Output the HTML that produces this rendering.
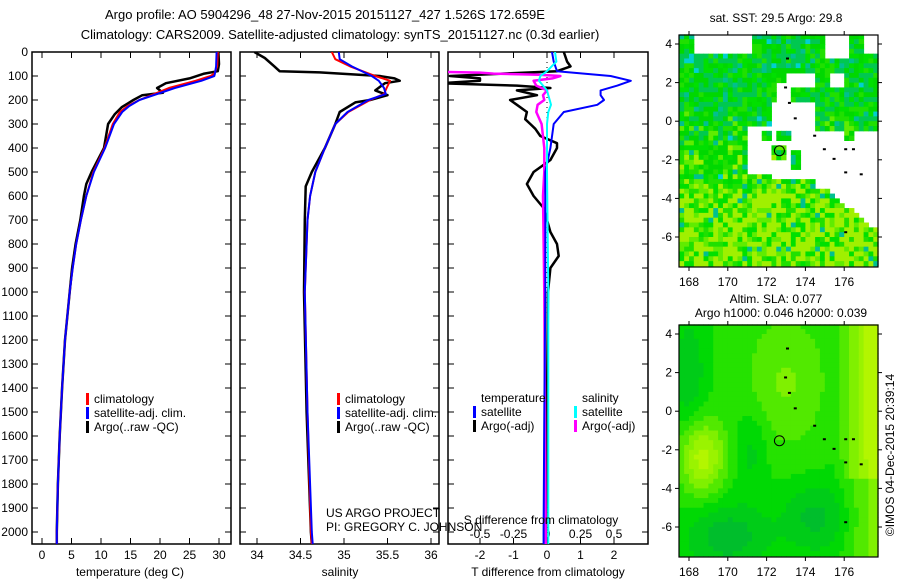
<!DOCTYPE html>
<html><head><meta charset="utf-8"><style>
body{margin:0;background:#fff}
svg{display:block;font-family:"Liberation Sans",sans-serif}
text{font-size:12px;fill:#000}
</style></head><body>
<svg id="s" width="900" height="580" viewBox="0 0 900 580">
<defs>
<clipPath id="c1"><rect x="32" y="52" width="199" height="492"/></clipPath>
<clipPath id="c2"><rect x="240" y="52" width="199" height="492"/></clipPath>
<clipPath id="c3"><rect x="448" y="52" width="200" height="492"/></clipPath>
</defs>
<text x="325" y="19" text-anchor="middle" style="font-size:13px">Argo profile: AO 5904296_48 27-Nov-2015 20151127_427 1.526S 172.659E</text>
<text x="340" y="39" text-anchor="middle" style="font-size:13px">Climatology: CARS2009. Satellite-adjusted climatology: synTS_20151127.nc (0.3d earlier)</text>
<g id="g"></g>
</svg>
<script>
// ---------- data ----------
const tDepth=[0,60,90,100,120,150,175,200,225,250,300,400,500,600,700,800,900,1000,1200,1400,1600,1800,2000,2050];
const tClim=[29.8,29.7,29.2,28.6,26,21.5,19,16.5,14.5,13.2,12,10.6,8.7,7.5,6.6,5.8,5.2,4.7,3.9,3.4,3.0,2.7,2.5,2.5];
const tSat=[29.6,29.5,29.3,29.2,27,22.5,19.5,16.5,14.8,13.6,12.2,10.7,8.8,7.5,6.6,5.8,5.2,4.7,3.9,3.4,3.0,2.7,2.5,2.5];
const argoDepth=[0,50,80,90,110,130,150,170,180,200,230,260,300,400,500,550,600,700,800,900,1000,1200,1400,1600,1800,2000,2050];
const tArgo=[29.9,30,29.8,27.5,25,21,19.5,20.5,17,15.5,13.5,12.3,11.2,10.5,8.4,7.5,7.1,6.5,5.7,5.1,4.7,3.9,3.4,3.0,2.7,2.5,2.5];
const sDepth=[0,30,60,100,120,150,175,200,250,300,400,500,600,700,1000,1500,2000,2050];
const sClim=[34.86,34.9,35.07,35.36,35.53,35.49,35.46,35.3,35.05,34.9,34.78,34.67,34.61,34.58,34.55,34.58,34.62,34.63];
const sSat=[34.94,34.95,35.09,35.32,35.4,35.46,35.48,35.28,35.04,34.9,34.78,34.67,34.61,34.58,34.55,34.58,34.63,34.64];
const sArgoDepth=[0,25,60,80,85,100,110,120,130,160,180,200,210,250,300,400,500,560,700,1000,1500,2000,2050];
const sArgo=[33.97,34.09,34.2,34.26,34.72,35.41,35.58,35.64,35.47,35.36,35.5,35.3,35.13,34.95,34.9,34.78,34.63,34.56,34.55,34.54,34.57,34.62,34.63];
const dDepth=[0,40,80,100,120,140,160,180,200,220,250,300,400,500,1000,1500,2000,2050];
const dTSat=[0.15,0.2,0.3,1.9,2.5,2.1,1.6,1.6,1.7,1.5,0.5,0.2,0.1,-0.05,-0.05,-0.08,-0.1,-0.1];
const dSSat=[0.06,0.07,0,-0.05,-0.06,-0.03,0,0.01,0.02,0.03,0.01,0,0,0,0.01,0.01,0.01,0.01];
const daDepth=[0,40,60,80,90,100,110,120,130,140,150,160,180,200,220,250,280,300,320,350,380,400,450,500,550,600,650,700,750,800,850,900,1000,1500,2000,2050];
const dTArgo=[0.5,0.6,0.7,0.3,-1.3,-2.9,-2,-2,-3.2,-0.9,0.1,-0.9,-0.3,-1.1,-0.9,-0.6,-0.65,-0.5,-0.35,-0.2,0.3,0.3,0.1,-0.4,-0.6,-0.4,-0.1,0,0.1,0.3,0.35,0.1,0.03,0,-0.03,-0.03];
const dsDepth=[83,86,90,95,100,110,120,140,160,180,200,220,250,300,400,500,600,1000,2000,2050];
const dSArgo=[-0.8,-0.5,-0.4,-0.06,0.1,0.04,-0.1,-0.08,0,-0.03,-0.02,-0.07,-0.08,-0.04,-0.02,-0.02,-0.03,-0.02,-0.01,-0.01];
const depthTicks=[0,100,200,300,400,500,600,700,800,900,1000,1100,1200,1300,1400,1500,1600,1700,1800,1900,2000];
const tTicks=[0,5,10,15,20,25,30];
const sTicks=[34,34.5,35,35.5,36];
const dTTicks=[-2,-1,0,1,2];
const dSTicks=[-0.5,-0.25,0,0.25,0.5];
const lonTicks=[168,170,172,174,176];
const latTicks=[4,2,0,-2,-4,-6];

// ---------- axes ----------
const yD=d=>52+d*0.24;
const xT=t=>42+t*5.9;
const xS=s=>257+(s-34)*87;
const xdT=t=>547+t*33.5;
const xdS=s=>547+s*134;
const xLon=l=>689+(l-168)*19.4;
const yLat1=l=>44+(4-l)*19.3;
const yLat2=l=>334+(4-l)*19.3;

const NS='http://www.w3.org/2000/svg';
const G=document.getElementById('g');
function mk(tag,at,parent){const e=document.createElementNS(NS,tag);for(const k in at)e.setAttribute(k,at[k]);(parent||G).appendChild(e);return e;}
function txt(x,y,s,anchor,extra){const e=mk('text',Object.assign({x:x,y:y,'text-anchor':anchor||'start'},extra||{}));e.textContent=s;return e;}

function panel(x0,x1,name){
  const r=mk('rect',{x:x0,y:52,width:x1-x0,height:492,fill:'none',stroke:'#000','stroke-width':1.5});
  
  
  depthTicks.forEach(d=>{mk('line',{x1:x0,x2:x0+6,y1:yD(d),y2:yD(d),stroke:'#000'});mk('line',{x1:x1-6,x2:x1,y1:yD(d),y2:yD(d),stroke:'#000'});});
}
function line(vals,depths,fx,color,w,clip,name){
  const p=vals.map((v,i)=>fx(v).toFixed(1)+','+yD(depths[i]).toFixed(1)).join(' ');
  const e=mk('polyline',{points:p,fill:'none',stroke:color,'stroke-width':w,'clip-path':'url(#'+clip+')','stroke-linejoin':'round'});
  
  
}
function legend(x,y,color,label,name){
  mk('rect',{x:x,y:y-10,width:3,height:12,fill:color});
  const t=txt(x+8,y,label);
  
  
}

depthTicks.forEach(d=>{const t=txt(28,yD(d)+4,String(d),'end');});

// panel 1 temperature
panel(32,231,'temperature-panel');
tTicks.forEach(t=>{mk('line',{x1:xT(t),x2:xT(t),y1:544,y2:538,stroke:'#000'});mk('line',{x1:xT(t),x2:xT(t),y1:52,y2:58,stroke:'#000'});const e=txt(xT(t),559,String(t),'middle');});
line(tArgo,argoDepth,xT,'#000',2.5,'c1','temp-argo-line');
line(tClim,tDepth,xT,'#f00',2,'c1','temp-clim-line');
line(tSat,tDepth,xT,'#00f',2,'c1','temp-sat-line');
legend(86,403,'#f00','climatology','legend-climatology');
legend(86,417,'#00f','satellite-adj. clim.','legend-satellite');
legend(86,431,'#000','Argo(..raw -QC)','legend-argo');
let e=txt(130,576,'temperature (deg C)','middle');

// panel 2 salinity
panel(240,439,'salinity-panel');
sTicks.forEach(s=>{mk('line',{x1:xS(s),x2:xS(s),y1:544,y2:538,stroke:'#000'});mk('line',{x1:xS(s),x2:xS(s),y1:52,y2:58,stroke:'#000'});const t=txt(xS(s),559,String(s),'middle');});
line(sArgo,sArgoDepth,xS,'#000',2.5,'c2','sal-argo-line');
line(sClim,sDepth,xS,'#f00',2,'c2','sal-clim-line');
line(sSat,sDepth,xS,'#00f',2,'c2','sal-sat-line');
legend(337,403,'#f00','climatology','legend-climatology-2');
legend(337,417,'#00f','satellite-adj. clim.','legend-satellite-2');
legend(337,431,'#000','Argo(..raw -QC)','legend-argo-2');
e=txt(340,576,'salinity','middle');
e=txt(326,517,'US ARGO PROJECT');
e=txt(326,531,'PI: GREGORY C. JOHNSON');

// panel 3 differences
panel(448,648,'difference-panel');
dTTicks.forEach(t=>{mk('line',{x1:xdT(t),x2:xdT(t),y1:544,y2:538,stroke:'#000'});mk('line',{x1:xdT(t),x2:xdT(t),y1:52,y2:58,stroke:'#000'});const q=txt(xdT(t),559,String(t),'middle');});
dSTicks.forEach(s=>{const q=txt(xdS(s),538,String(s),'middle');});
mk('line',{x1:xdT(0),x2:xdT(0),y1:52,y2:544,stroke:'#000','stroke-dasharray':'1,4'});
line(dTArgo,daDepth,xdT,'#000',2.5,'c3','tdiff-argo-line');
line(dSArgo,dsDepth,xdS,'#f0f',2.5,'c3','sdiff-argo-line');
line(dTSat,dDepth,xdT,'#00f',2,'c3','tdiff-sat-line');
line(dSSat,dDepth,xdS,'#0ff',2,'c3','sdiff-sat-line');
e=txt(481,402,'temperature');
e=txt(582,402,'salinity');
legend(473,416,'#00f','satellite','legend-tdiff-satellite');
legend(473,430,'#000','Argo(-adj)','legend-tdiff-argo');
legend(574,416,'#0ff','satellite','legend-sdiff-satellite');
legend(574,430,'#f0f','Argo(-adj)','legend-sdiff-argo');
e=txt(541,524,'S difference from climatology','middle');
e=txt(548,576,'T difference from climatology','middle');

// ---------- maps ----------
function hash(i,j){let h=(i*374761393+j*668265263)|0;h=(h^(h>>>13))*1274126177|0;return ((h^(h>>>16))>>>0)/4294967296;}
const whiteRects=[[171.0,172.3,-2.7,-0.3],[172.3,174.5,-2.9,1.0],[174.5,177.8,-3.5,-0.6],[172.5,173.3,1.0,2.6],[173.3,174.6,1.8,2.4],
  [175.1,176.3,3.3,4.5],[177.1,177.8,3.6,4.5],[168.3,171.2,3.6,4.5],[175.3,176.1,1.8,2.6]];
const greenPatches=[[172.2,173.0,-2.0,-1.2],[173.2,173.8,-2.6,-1.6],[171.8,172.3,-1.0,-0.6],[172.6,173.2,-1.0,-0.5],[175.9,176.4,-1.1,-0.6],[172.5,173.0,2.0,2.6]];
function inR(lon,lat,r){return lon>=r[0]&&lon<r[1]&&lat>=r[2]&&lat<r[3];}
function isWhite(lon,lat){
  if(greenPatches.some(r=>inR(lon,lat,r)))return false;
  if(whiteRects.some(r=>inR(lon,lat,r)))return true;
  if(lon>=175&&lat<-3.5&&lat>-3.5-(lon-175)*0.8)return true;
  return false;
}
const sstPal=['#00c850','#00d800','#20e000','#00e000','#60ec00','#a0f000','#00c090','#00d0d0'];
const cell=0.25;
const mapG1=mk('g',{});
const mapG2=mk('g',{});
const lonMin=167.5,lonMax=177.75,latMin=-7.5,latMax=4.5;
for(let i=0;lonMin+i*cell<lonMax;i++){
  for(let j=0;latMax-j*cell>latMin;j++){
    const lon=lonMin+i*cell+cell/2, lat=latMax-j*cell-cell/2;
    const x=xLon(lonMin+i*cell), w=cell*19.4+0.5;
    if(!isWhite(lon,lat)){
      const r=hash(i,j); let k;
      const south=Math.max(0,Math.min(1,(0.5-lat)/5));
      if(r<0.05)k=6; else if(r<0.07&&lat>-3)k=7; else {const v=r*0.8+south*0.5; k=v<0.3?0:v<0.5?1:v<0.65?2:v<0.8?3:v<0.95?4:5;}
      mk('rect',{x:x,y:yLat1(lat+cell/2),width:w,height:cell*19.3+0.5,fill:sstPal[k]},mapG1);
    }
    const g=(a,b,sx,sy)=>Math.exp(-((lon-a)**2/(2*sx*sx)+(lat-b)**2/(2*sy*sy)));
    let v=0.45+0.55*g(168.7,-2.4,0.8,1.3)+0.6*Math.max(0,Math.min(1,(lon-175.5)/2))*(lat>-3.5?1:0.5)+0.25*g(173,1.5,1.5,2.5)-0.35*g(170,-6.5,1.5,1.2)-0.3*g(174.5,-5.5,1.2,1.3)-0.25*g(168,2,0.6,2)-0.2*g(171.2,-2,0.6,1.5);
    v=Math.round(v*8)/8;
    const c0=[0,176,64],c1=[0,220,0],c2=[128,240,0],c3=[200,248,0];
    let col; const lerp=(a,b,t)=>a.map((q,n)=>Math.round(q+(b[n]-q)*t));
    if(v<0.4)col=lerp(c0,c1,Math.max(0,v/0.4)); else if(v<0.75)col=lerp(c1,c2,(v-0.4)/0.35); else col=lerp(c2,c3,Math.min(1,(v-0.75)/0.35));
    mk('rect',{x:x,y:yLat2(lat+cell/2),width:w,height:cell*19.3+0.5,fill:'rgb('+col+')'},mapG2);
  }
}
function mapFrame(yf,top,name){
  const f=mk('rect',{x:679,y:top,width:199,height:232,fill:'none',stroke:'#000','stroke-width':1.2});
  
  lonTicks.forEach(l=>{mk('line',{x1:xLon(l),x2:xLon(l),y1:top,y2:top-4,stroke:'#000'});mk('line',{x1:xLon(l),x2:xLon(l),y1:top+232,y2:top+236,stroke:'#000'});const t=txt(xLon(l),top+251,String(l),'middle');});
  latTicks.forEach(l=>{mk('line',{x1:679,x2:675,y1:yf(l),y2:yf(l),stroke:'#000'});mk('line',{x1:878,x2:882,y1:yf(l),y2:yf(l),stroke:'#000'});const t=txt(672,yf(l)+4,String(l),'end');});
  const c=mk('circle',{cx:xLon(172.66),cy:yf(-1.53),r:5,fill:'none',stroke:'#000','stroke-width':1});
  
  const isl=[[173,3.3],[172.9,1.8],[173.1,1.0],[173.4,0.2],[174.4,-0.7],[174.9,-1.4],[176,-1.4],[176.4,-1.4],[175.4,-1.9],[176,-2.6],[176.8,-2.7],[176,-5.7]];
  isl.forEach(p=>mk('rect',{x:xLon(p[0]),y:yf(p[1]),width:3,height:2,fill:'#000'}));
}
mapFrame(yLat1,35,'sst-map');
mapFrame(yLat2,325,'sla-map');
e=txt(776,22,'sat. SST: 29.5 Argo: 29.8','middle');
e=txt(776,303,'Altim. SLA: 0.077','middle');
e=txt(781,317,'Argo h1000: 0.046 h2000: 0.039','middle');
e=txt(0,0,'©IMOS 04-Dec-2015 20:39:14','middle',{transform:'translate(894,455) rotate(-90)'});
</script>
</body></html>
